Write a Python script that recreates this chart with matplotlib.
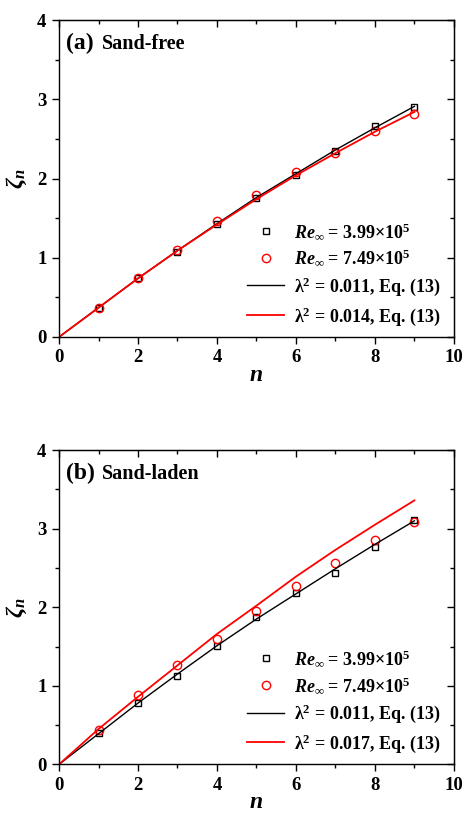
import numpy as np
import matplotlib
matplotlib.use("Agg")
import matplotlib.pyplot as plt
from matplotlib.ticker import MultipleLocator, NullFormatter

plt.rcParams['font.family'] = ['Liberation Serif', 'DejaVu Serif']
plt.rcParams['font.weight'] = 'bold'
plt.rcParams['mathtext.fontset'] = 'custom'
plt.rcParams['mathtext.rm'] = 'Liberation Serif:bold'
plt.rcParams['mathtext.it'] = 'Liberation Serif:italic:bold'
plt.rcParams['mathtext.bf'] = 'Liberation Serif:bold'

n_pts = [1, 2, 3, 4, 5, 6, 7, 8, 9]
n_line = [0, 1, 2, 3, 4, 5, 6, 7, 8, 9]

# (a) sand-free
a_re399 = [0.37, 0.74, 1.07, 1.43, 1.76, 2.05, 2.35, 2.66, 2.90]
a_re749 = [0.37, 0.745, 1.10, 1.46, 1.79, 2.08, 2.32, 2.60, 2.82]
a_fit011 = [0, 0.37, 0.74, 1.09, 1.43, 1.76, 2.06, 2.36, 2.64, 2.91]
a_fit014 = [0, 0.37, 0.74, 1.09, 1.42, 1.74, 2.04, 2.32, 2.59, 2.84]

# (b) sand-laden
b_re399 = [0.40, 0.78, 1.13, 1.51, 1.87, 2.18, 2.43, 2.77, 3.11]
b_re749 = [0.44, 0.886, 1.266, 1.60, 1.95, 2.27, 2.565, 2.86, 3.08]
b_fit011 = [0, 0.39, 0.78, 1.15, 1.51, 1.85, 2.17, 2.49, 2.80, 3.10]
b_fit017 = [0, 0.45, 0.86, 1.26, 1.66, 2.02, 2.39, 2.73, 3.05, 3.36]

panels = [
    ("(a)", "Sand-free", a_re399, a_re749, a_fit011, a_fit014, "0.011", "0.014"),
    ("(b)", "Sand-laden", b_re399, b_re749, b_fit011, b_fit017, "0.011", "0.017"),
]

fig = plt.figure(figsize=(4.65, 8.14), dpi=100)
positions = [[0.127, 0.586, 0.849, 0.3894], [0.127, 0.061, 0.849, 0.386]]


def set_locators(axis, major, minor):
    axis.set_major_locator(MultipleLocator(major))
    axis.set_minor_locator(MultipleLocator(minor))


for pos, (tag, title, sq, ci, l1, l2, lam1, lam2) in zip(positions, panels):
    ax = fig.add_axes(pos)
    ax.plot(n_pts, sq, 's', ms=5, mfc='none', mec='black', mew=1.0,
            label=r'$Re_{\infty}$ = 3.99×10$^5$')
    ax.plot(n_pts, ci, 'o', ms=6, mfc='none', mec='red', mew=1.0,
            label=r'$Re_{\infty}$ = 7.49×10$^5$')
    ax.plot(n_line, l1, '-', color='black', lw=1.0,
            label='λ$^2$ = ' + lam1 + ', Eq. (13)')
    ax.plot(n_line, l2, '-', color='red', lw=1.3,
            label='λ$^2$ = ' + lam2 + ', Eq. (13)')

    ax.set_xlim(0, 10)
    ax.set_ylim(0, 4)
    set_locators(ax.xaxis, 2, 1)
    set_locators(ax.yaxis, 1, 0.5)
    ax.tick_params(which='both', direction='out', labelsize=13.5, width=1.0, pad=4)
    ax.tick_params(which='major', length=5)
    ax.tick_params(which='minor', length=3)
    for s in ax.spines.values():
        s.set_linewidth(1.0)

    # inward mirror ticks on top and right
    top = ax.secondary_xaxis('top')
    set_locators(top.xaxis, 2, 1)
    top.xaxis.set_major_formatter(NullFormatter())
    top.tick_params(which='both', direction='in', width=1.0)
    top.tick_params(which='major', length=5)
    top.tick_params(which='minor', length=3)
    right = ax.secondary_yaxis('right')
    set_locators(right.yaxis, 1, 0.5)
    right.yaxis.set_major_formatter(NullFormatter())
    right.tick_params(which='both', direction='in', width=1.0)
    right.tick_params(which='major', length=5)
    right.tick_params(which='minor', length=3)

    ax.set_xlabel('$n$', fontsize=17, labelpad=-1)
    ax.set_ylabel(r'$\zeta_n$', fontsize=17, labelpad=6)

    ax.text(0.018, 0.925, tag, transform=ax.transAxes, fontsize=17,
            fontweight='bold', va='center')
    ax.text(0.108, 0.925, title, transform=ax.transAxes, fontsize=14.5,
            fontweight='bold', va='center')

    ax.legend(loc='lower right', frameon=False, fontsize=13,
              handlelength=2.0, handletextpad=0.6, labelspacing=0.4,
              borderaxespad=0.3, bbox_to_anchor=(1.0, -0.01))

fig.savefig("out.png", dpi=100)
